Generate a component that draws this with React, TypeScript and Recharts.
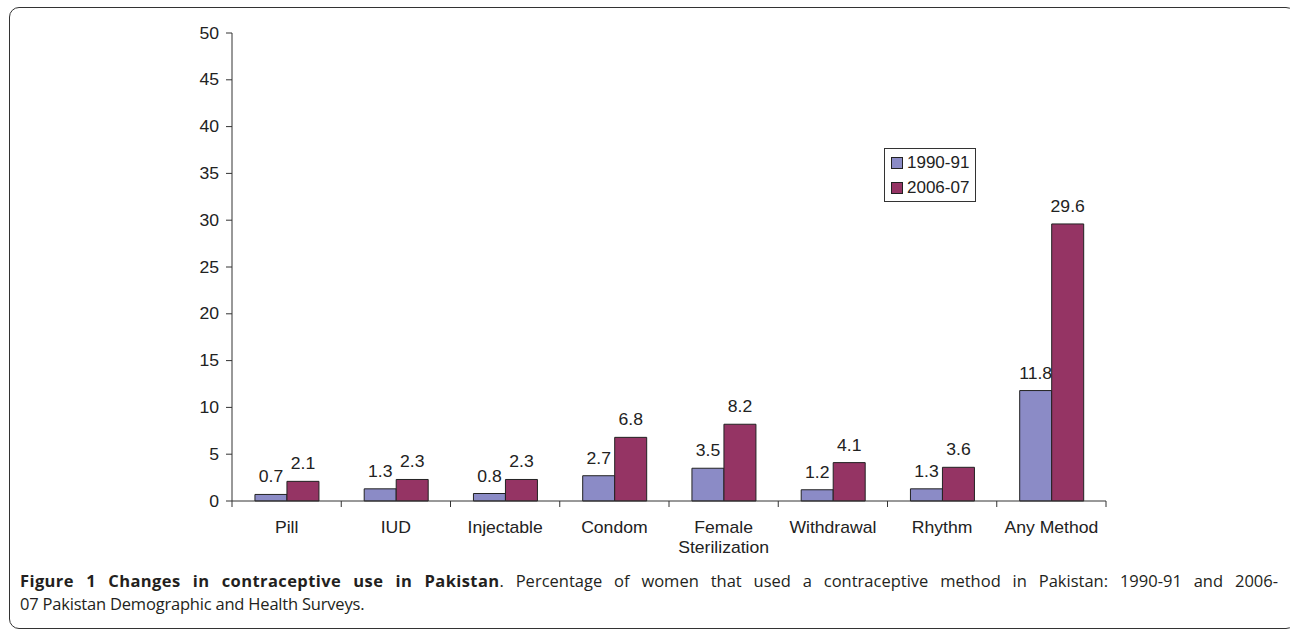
import React from 'react';
import { BarChart, Bar, XAxis, YAxis, Legend, LabelList } from 'recharts';

const categories = ['Pill', 'IUD', 'Injectable', 'Condom', 'Female\nSterilization', 'Withdrawal', 'Rhythm', 'Any Method'];
const series1990 = [0.7, 1.3, 0.8, 2.7, 3.5, 1.2, 1.3, 11.8];
const series2006 = [2.1, 2.3, 2.3, 6.8, 8.2, 4.1, 3.6, 29.6];
const seriesNames = ['1990-91', '2006-07'];
const seriesColors = ['#8B8BC6', '#953464'];
const yTicks = [0, 5, 10, 15, 20, 25, 30, 35, 40, 45, 50];

const data = categories.map((c, i) => ({ name: c, a: series1990[i], b: series2006[i] }));

const FONT = '"Liberation Sans", Arial, sans-serif';
const STRETCH = 1.1;

const SText = ({ x, y, anchor, dy, children }: any) => (
  <text
    transform={`translate(${x},${y}) scale(${STRETCH},1)`}
    x={0}
    y={0}
    dy={dy}
    textAnchor={anchor}
    fontSize={16}
    fill="#222"
    fontFamily={FONT}
  >
    {children}
  </text>
);

const CatTick = (props: any) => {
  const { x, y, payload, index, width } = props;
  const half = payload && payload.offset ? payload.offset : width / categories.length / 2;
  const lines = String(payload.value).split('\n');
  return (
    <g>
      <line x1={x - half} x2={x - half} y1={y} y2={y + 6} stroke="#333" strokeWidth={1} />
      {index === categories.length - 1 && (
        <line x1={x + half} x2={x + half} y1={y} y2={y + 6} stroke="#333" strokeWidth={1} />
      )}
      {lines.map((l, i) => (
        <SText key={i} x={x} y={y + 32 + i * 20} anchor="middle">
          {l}
        </SText>
      ))}
    </g>
  );
};

const YTick = (props: any) => {
  const { x, y, payload } = props;
  return (
    <SText x={x} y={y} anchor="end" dy="0.355em">
      {payload.value}
    </SText>
  );
};

const BarLabel = (props: any) => {
  const { x, y, width, value } = props;
  return (
    <SText x={Number(x) + Number(width) / 2} y={Number(y) - 12} anchor="middle">
      {value}
    </SText>
  );
};

const LegendBox = () => (
  <div
    style={{
      border: '1px solid #333',
      background: '#fff',
      padding: '1px 6px 1px 6px',
      fontFamily: FONT,
      fontSize: 17,
      color: '#222',
      lineHeight: '25px',
    }}
  >
    {seriesNames.map((n, i) => (
      <div key={n} style={{ display: 'flex', alignItems: 'center', height: 25 }}>
        <span
          style={{
            display: 'inline-block',
            width: 10,
            height: 10,
            background: seriesColors[i],
            border: '1px solid #222',
            marginRight: 4,
          }}
        />
        <span>{n}</span>
      </div>
    ))}
  </div>
);

export default function App() {
  return (
    <div style={{ position: 'absolute', left: 0, top: 0, width: 1290, height: 630, overflow: 'hidden', background: '#fff' }}>
      <div
        style={{
          position: 'absolute',
          left: 9,
          top: 7,
          width: 1287,
          height: 622,
          border: '1.5px solid #333',
          borderRadius: 10,
          boxSizing: 'border-box',
        }}
      />
      <div style={{ position: 'absolute', left: 0, top: 0 }}>
        <BarChart
          width={1290}
          height={560}
          data={data}
          margin={{ top: 33, right: 184, left: 172, bottom: 9 }}
          barCategoryGap="21%"
          barGap={0}
        >
          <XAxis
            dataKey="name"
            height={50}
            tickLine={false}
            tickSize={0}
            tickMargin={0}
            axisLine={{ stroke: '#333' }}
            tick={<CatTick />}
            interval={0}
          />
          <YAxis
            width={60}
            domain={[0, 50]}
            ticks={yTicks}
            interval={0}
            tickSize={6}
            tickMargin={7}
            axisLine={{ stroke: '#333' }}
            tickLine={{ stroke: '#333' }}
            tick={<YTick />}
          />
          <Legend
            layout="vertical"
            align="center"
            verticalAlign="middle"
            content={<LegendBox />}
            wrapperStyle={{ left: 884, top: 148, width: 'auto', height: 'auto' }}
          />
          <Bar dataKey="a" name={seriesNames[0]} fill={seriesColors[0]} stroke="#222" strokeWidth={1} isAnimationActive={false}>
            <LabelList dataKey="a" content={<BarLabel />} />
          </Bar>
          <Bar dataKey="b" name={seriesNames[1]} fill={seriesColors[1]} stroke="#222" strokeWidth={1} isAnimationActive={false}>
            <LabelList dataKey="b" content={<BarLabel />} />
          </Bar>
        </BarChart>
      </div>
      <div
        style={{
          position: 'absolute',
          left: 20,
          top: 569,
          width: 1258,
          fontFamily: '"Open Sans", sans-serif',
          fontSize: 16.5,
          lineHeight: '23px',
          color: '#231f20',
        }}
      >
        <div style={{ textAlign: 'justify', textAlignLast: 'justify', whiteSpace: 'nowrap' as any }}>
          <b style={{ letterSpacing: '0.4px' }}>Figure 1 Changes in contraceptive use in Pakistan</b>. Percentage of women that used a contraceptive method in Pakistan: 1990-91 and 2006-
        </div>
        <div style={{ letterSpacing: '-0.2px' }}>07 Pakistan Demographic and Health Surveys.</div>
      </div>
    </div>
  );
}
